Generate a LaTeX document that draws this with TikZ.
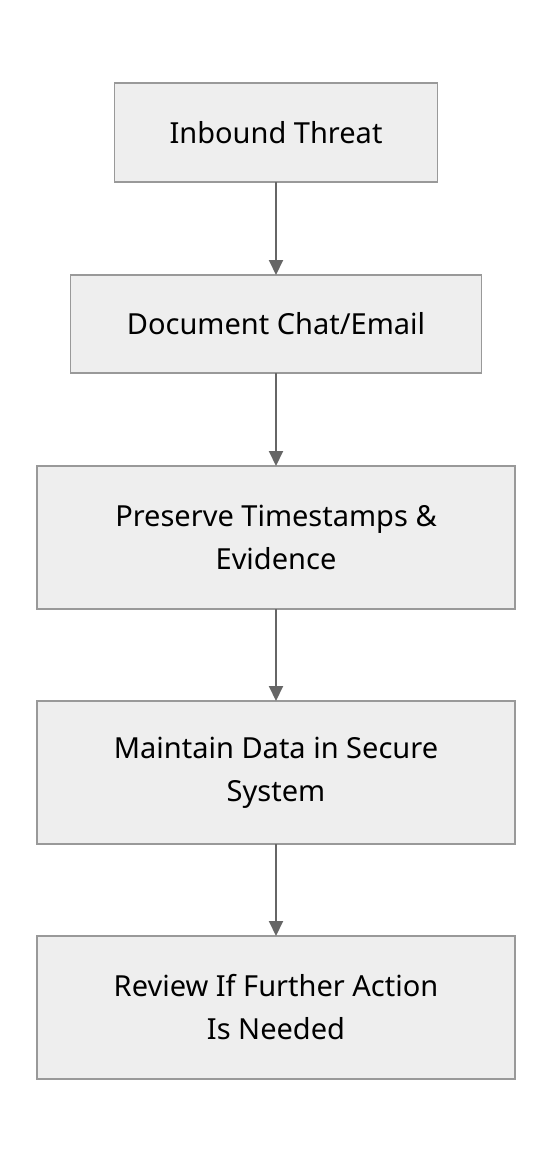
\documentclass[tikz,border=0pt]{standalone}
\usepackage{fontspec}
\setmainfont{Noto Sans}
\usepackage{xcolor}
\definecolor{colorFill}{HTML}{EEEEEE}
\definecolor{colorBorder}{HTML}{999999}
\definecolor{colorArrow}{HTML}{666666}
\usepackage{tikz}
\usetikzlibrary{arrows.meta, positioning}
\tikzset{stepbox/.style={draw=colorBorder, fill=colorFill, line width=1.5pt, inner sep=0pt, outer sep=0pt, align=center, font=\fontsize{29}{43}\selectfont}}

\begin{document}
\begin{tikzpicture}[x=1pt, y=-1pt, >={Triangle[width=14pt, length=15pt]}, node distance=93pt]
\useasboundingbox (0,0) rectangle (552,1164);
\node[stepbox, minimum width=323pt, minimum height=99pt] (threat) at (276,132.5) {Inbound Threat};
\node[stepbox, minimum width=411pt, minimum height=98pt, below=of threat] (doc) {Document Chat/Email};
\node[stepbox, minimum width=478pt, minimum height=143pt, below=of doc] (preserve) {Preserve Timestamps \&\\Evidence};
\node[stepbox, minimum width=478pt, minimum height=143pt, below=92pt of preserve] (maintain) {Maintain Data in Secure\\System};
\node[stepbox, minimum width=478pt, minimum height=143pt, below=92pt of maintain] (review) {Review If Further Action\\Is Needed};
\draw [->, colorArrow, line width=2pt] (threat) -- (doc);
\draw [->, colorArrow, line width=2pt] (doc) -- (preserve);
\draw [->, colorArrow, line width=2pt] (preserve) -- (maintain);
\draw [->, colorArrow, line width=2pt] (maintain) -- (review);
\end{tikzpicture}
\end{document}
